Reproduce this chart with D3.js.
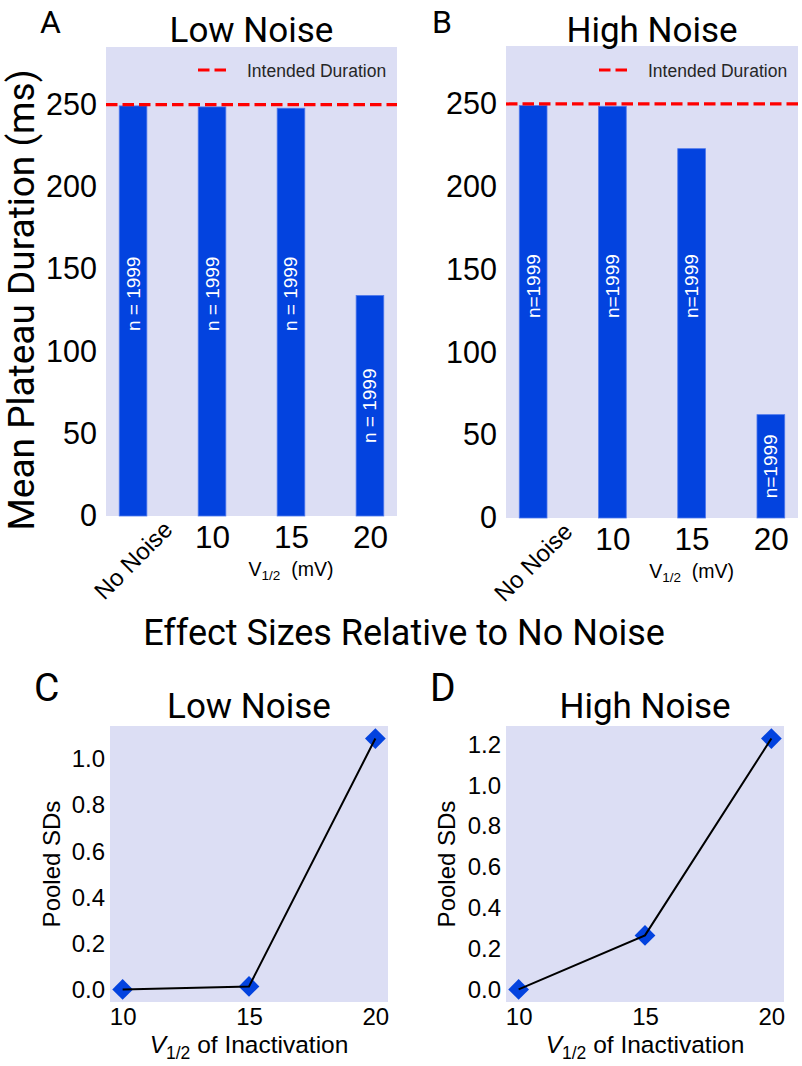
<!DOCTYPE html>
<html>
<head>
<meta charset="utf-8">
<script src="https://cdn.jsdelivr.net/npm/d3@7"></script>
<style>
  html, body { margin: 0; padding: 0; background: #fff; }
  svg { display: block; }
</style>
</head>
<body>
<div id="chart"></div>
<script>
// ---------------- data ----------------
const categories = ["No Noise", "10", "15", "20"];
const lowNoiseDuration = [249.2, 248.6, 247.8, 134.0];
const highNoiseDuration = [249.0, 248.6, 223.0, 62.4];
const lowNoiseN = ["n = 1999", "n = 1999", "n = 1999", "n = 1999"];
const highNoiseN = ["n=1999", "n=1999", "n=1999", "n=1999"];
const intendedDuration = 250;
const durationTicks = [0, 50, 100, 150, 200, 250];

const v12 = [10, 15, 20];
const lowNoiseEffect = [0.0, 0.013, 1.09];
const highNoiseEffect = [0.0, 0.265, 1.23];
const effectTicksLow = [0.0, 0.2, 0.4, 0.6, 0.8, 1.0];
const effectTicksHigh = [0.0, 0.2, 0.4, 0.6, 0.8, 1.0, 1.2];
const v12Ticks = [10, 15, 20];

// ---------------- style ----------------
const W = 802, H = 1066;
const BG = "#dcdef4";
const BLUE = "#0343df";
const TITLE_FONT = "Roboto, 'Liberation Sans', Arial, sans-serif";
const TICK_FONT = "'Liberation Sans', Arial, Helvetica, sans-serif";

const svg = d3.select("#chart").append("svg")
  .attr("width", W).attr("height", H);
svg.append("rect").attr("width", W).attr("height", H).attr("fill", "#fff");

// ---------------- bar panels ----------------
function barPanel(cfg) {
  const x = d3.scaleLinear().domain([-0.3425, 3.3425]).range([cfg.x0, cfg.x1]);
  const y = d3.scaleLinear().domain([0, 285]).range([cfg.y1, cfg.y0]);
  const g = svg.append("g");
  g.append("rect").attr("x", cfg.x0).attr("y", cfg.y0)
    .attr("width", cfg.x1 - cfg.x0).attr("height", cfg.y1 - cfg.y0).attr("fill", BG);

  const bw = x(0.35) - x(0);
  g.selectAll("rect.bar").data(cfg.values).join("rect")
    .attr("class", "bar")
    .attr("x", (d, i) => x(i) - bw / 2)
    .attr("y", d => y(d))
    .attr("width", bw)
    .attr("height", d => y(0) - y(d))
    .attr("fill", BLUE)
    .attr("stroke", "#4f78ec").attr("stroke-width", 0.8);

  // n labels
  g.selectAll("text.n").data(cfg.values).join("text")
    .attr("class", "n")
    .attr("transform", (d, i) => {
      const yc = d > cfg.labelAt * 1.5 ? y(cfg.labelAt) : y(d / 2);
      return `translate(${x(i)},${yc}) rotate(-90)`;
    })
    .attr("text-anchor", "middle").attr("dominant-baseline", "central")
    .attr("fill", "#fff").attr("font-family", TICK_FONT).attr("font-size", 19)
    .text((d, i) => cfg.labels[i]);

  // intended duration line
  g.append("line").attr("x1", cfg.x0).attr("x2", cfg.x1)
    .attr("y1", y(intendedDuration)).attr("y2", y(intendedDuration))
    .attr("stroke", "#ff0000").attr("stroke-width", 3.2)
    .attr("stroke-dasharray", "11.5,5");

  // legend
  g.append("line").attr("x1", cfg.x1 - 199).attr("x2", cfg.x1 - 166)
    .attr("y1", 70).attr("y2", 70)
    .attr("stroke", "#ff0000").attr("stroke-width", 3.2).attr("stroke-dasharray", "11.5,5");
  g.append("text").attr("x", cfg.x1 - 150).attr("y", 76.5)
    .attr("font-family", TICK_FONT).attr("font-size", 17.5).attr("fill", "#262626")
    .text("Intended Duration");

  // y axis tick labels
  const ya = d3.axisLeft(y).tickValues(durationTicks).tickSize(0).tickPadding(9);
  const yg = g.append("g").attr("transform", `translate(${cfg.x0},0)`).call(ya);
  yg.select(".domain").remove();
  yg.selectAll("text").attr("font-family", TICK_FONT).attr("font-size", 30.5).attr("fill", "#000");

  // x tick labels
  const xa = d3.axisBottom(x).tickValues([1, 2, 3]).tickFormat(d => categories[d]).tickSize(0).tickPadding(10);
  const xg = g.append("g").attr("transform", `translate(0,${cfg.y1})`).call(xa);
  xg.select(".domain").remove();
  xg.selectAll("text").attr("font-family", TICK_FONT).attr("font-size", 31.5).attr("fill", "#000");

  g.append("text")
    .attr("transform", `translate(${x(0)},${cfg.y1 + 44}) rotate(-45)`)
    .attr("text-anchor", "middle").attr("dominant-baseline", "central")
    .attr("font-family", TICK_FONT).attr("font-size", 24).attr("fill", "#000")
    .text(categories[0]);

  const xl = g.append("text").attr("x", x(2)).attr("y", cfg.y1 + 60)
    .attr("text-anchor", "middle").attr("font-family", TICK_FONT).attr("font-size", 19.5).attr("fill", "#000");
  xl.append("tspan").text("V");
  xl.append("tspan").attr("font-size", 13.5).attr("dy", 4).text("1/2");
  xl.append("tspan").attr("dy", -4).text("\u00a0 (mV)");

  // title and panel letter
  g.append("text").attr("x", (cfg.x0 + cfg.x1) / 2).attr("y", 42)
    .attr("text-anchor", "middle").attr("font-family", TITLE_FONT).attr("font-size", 35)
    .attr("fill", "#000").text(cfg.title);
  g.append("text").attr("x", cfg.letterX).attr("y", 33)
    .attr("font-family", TITLE_FONT).attr("font-size", 32).attr("fill", "#000").text(cfg.letter);
}

barPanel({ x0: 106, x1: 397, y0: 47, y1: 516, values: lowNoiseDuration, labels: lowNoiseN,
  labelAt: 135, title: "Low Noise", letter: "A", letterX: 40 });
barPanel({ x0: 506, x1: 798, y0: 46, y1: 518, values: highNoiseDuration, labels: highNoiseN,
  labelAt: 140, title: "High Noise", letter: "B", letterX: 432 });

svg.append("text").attr("transform", "translate(34,300) rotate(-90)")
  .attr("text-anchor", "middle").attr("font-family", TITLE_FONT).attr("font-size", 37)
  .attr("fill", "#000").text("Mean Plateau Duration (ms)");

svg.append("text").attr("x", 404).attr("y", 645)
  .attr("text-anchor", "middle").attr("font-family", TITLE_FONT).attr("font-size", 36)
  .attr("fill", "#000").text("Effect Sizes Relative to No Noise");

// ---------------- effect panels ----------------
function effectPanel(cfg) {
  const x = d3.scaleLinear().domain([9.5, 20.5]).range([cfg.x0, cfg.x1]);
  const y = d3.scaleLinear().domain(cfg.ydom).range([cfg.y1, cfg.y0]);
  const g = svg.append("g");
  g.append("rect").attr("x", cfg.x0).attr("y", cfg.y0)
    .attr("width", cfg.x1 - cfg.x0).attr("height", cfg.y1 - cfg.y0).attr("fill", BG);

  const pts = v12.map((v, i) => [v, cfg.values[i]]);
  const sym = d3.symbol().type(d3.symbolSquare).size(215);
  g.selectAll("path.pt").data(pts).join("path")
    .attr("class", "pt")
    .attr("transform", d => `translate(${x(d[0])},${y(d[1])}) rotate(45)`)
    .attr("d", sym).attr("fill", BLUE);
  g.append("path").datum(pts)
    .attr("d", d3.line().x(d => x(d[0])).y(d => y(d[1])))
    .attr("fill", "none").attr("stroke", "#000").attr("stroke-width", 2);

  const ya = d3.axisLeft(y).tickValues(cfg.ticks).tickFormat(d3.format(".1f")).tickSize(0).tickPadding(5);
  const yg = g.append("g").attr("transform", `translate(${cfg.x0},0)`).call(ya);
  yg.select(".domain").remove();
  yg.selectAll("text").attr("font-family", TICK_FONT).attr("font-size", 24).attr("fill", "#000");

  const xa = d3.axisBottom(x).tickValues(v12Ticks).tickSize(0).tickPadding(6);
  const xg = g.append("g").attr("transform", `translate(0,${cfg.y1})`).call(xa);
  xg.select(".domain").remove();
  xg.selectAll("text").attr("font-family", TICK_FONT).attr("font-size", 24).attr("fill", "#000");

  const xl = g.append("text").attr("x", (cfg.x0 + cfg.x1) / 2).attr("y", 1053)
    .attr("text-anchor", "middle").attr("font-family", TICK_FONT).attr("font-size", 24.5).attr("fill", "#000");
  xl.append("tspan").attr("font-style", "italic").text("V");
  xl.append("tspan").attr("font-size", 17.5).attr("dy", 6).text("1/2");
  xl.append("tspan").attr("dy", -6).text(" of Inactivation");

  g.append("text").attr("transform", `translate(${cfg.ylabX},${(cfg.y0 + cfg.y1) / 2}) rotate(-90)`)
    .attr("text-anchor", "middle").attr("font-family", TICK_FONT).attr("font-size", 24)
    .attr("fill", "#000").text("Pooled SDs");

  g.append("text").attr("x", (cfg.x0 + cfg.x1) / 2).attr("y", 718)
    .attr("text-anchor", "middle").attr("font-family", TITLE_FONT).attr("font-size", 35)
    .attr("fill", "#000").text(cfg.title);
  g.append("text").attr("x", cfg.letterX).attr("y", 701)
    .attr("font-family", TITLE_FONT).attr("font-size", 39).attr("fill", "#000").text(cfg.letter);
}

effectPanel({ x0: 110, x1: 388, y0: 726, y1: 1002, ydom: [-0.0545, 1.1445],
  values: lowNoiseEffect, ticks: effectTicksLow, title: "Low Noise", letter: "C",
  letterX: 34, ylabX: 60 });
effectPanel({ x0: 506, x1: 784, y0: 726, y1: 1002, ydom: [-0.0615, 1.2915],
  values: highNoiseEffect, ticks: effectTicksHigh, title: "High Noise", letter: "D",
  letterX: 430, ylabX: 455 });
</script>
</body>
</html>
